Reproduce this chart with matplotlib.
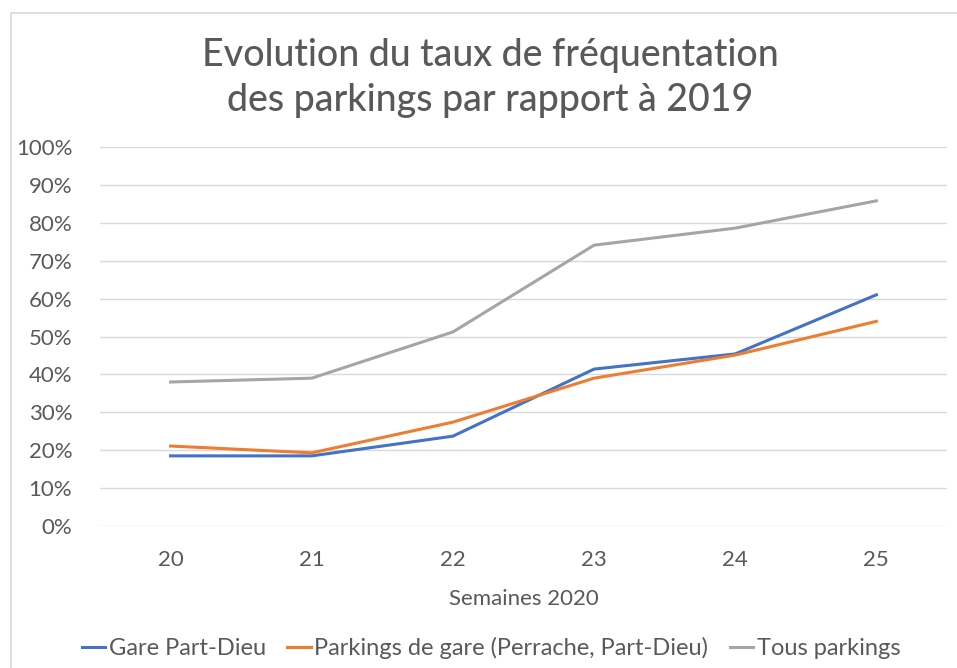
import matplotlib.pyplot as plt
from matplotlib.ticker import PercentFormatter
from matplotlib.patches import Rectangle

plt.rcParams['font.family'] = ['Lato', 'DejaVu Sans']

semaines = ['20', '21', '22', '23', '24', '25']
gare_part_dieu = [18.5, 18.5, 23.7, 41.4, 45.4, 61.0]
parkings_gare = [21.1, 19.3, 27.4, 39.0, 45.1, 54.0]
tous_parkings = [38.0, 39.0, 51.2, 74.1, 78.6, 85.8]

gris_txt = '#595959'

fig = plt.figure(figsize=(9.57, 6.68), dpi=100)
ax = fig.add_axes([0.1045, 0.2126, 0.885, 0.5673])

x = range(len(semaines))
ax.plot(x, gare_part_dieu, color='#4472C4', lw=2.2, label='Gare Part-Dieu')
ax.plot(x, parkings_gare, color='#ED7D31', lw=2.2, label='Parkings de gare (Perrache, Part-Dieu)')
ax.plot(x, tous_parkings, color='#A5A5A5', lw=2.2, label='Tous parkings')

ax.set_xlim(-0.5, len(semaines) - 0.5)
ax.set_ylim(0, 100)
ax.set_yticks(range(0, 101, 10))
ax.yaxis.set_major_formatter(PercentFormatter(decimals=0))
ax.set_xticks(list(x))
ax.set_xticklabels(semaines)
ax.grid(axis='y', color='#D9D9D9', lw=1)
ax.set_axisbelow(True)
for s in ax.spines.values():
    s.set_visible(False)
ax.tick_params(length=0, labelsize=16, colors=gris_txt)
ax.tick_params(axis='y', pad=20)
ax.tick_params(axis='x', pad=17)
ax.set_xlabel('Semaines 2020', fontsize=16, color=gris_txt, labelpad=14)

fig.text(0.512, 0.883, 'Evolution du taux de fréquentation\ndes parkings par rapport à 2019',
         ha='center', va='center', fontsize=27, color=gris_txt, linespacing=1.35,
         fontweight='medium')

fig.legend(loc='center', bbox_to_anchor=(0.513, 0.03), ncol=3, frameon=False,
           fontsize=17, handlelength=1.0, handletextpad=0.15, columnspacing=0.9,
           labelcolor=gris_txt)

fig.patches.append(Rectangle((0.0115, -0.05), 1.2, 1.03, transform=fig.transFigure,
                             fill=False, edgecolor='#D9D9D9', lw=1.2))

fig.savefig('out.png', dpi=100)
